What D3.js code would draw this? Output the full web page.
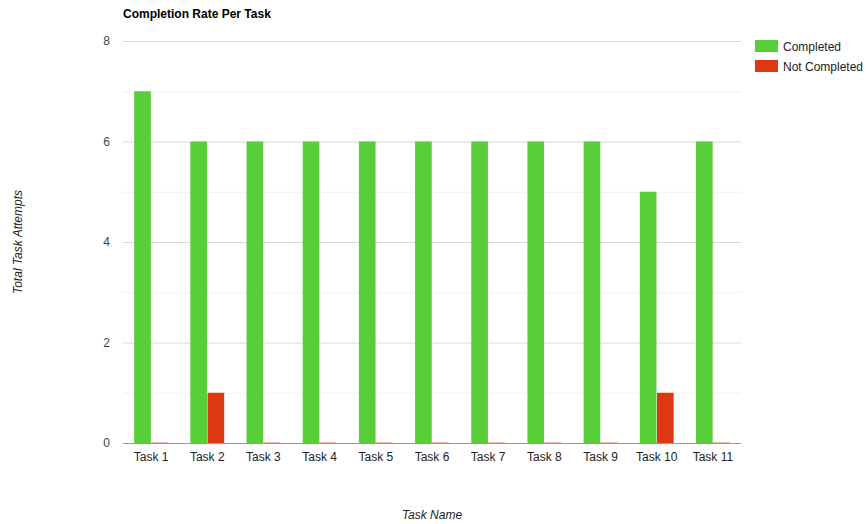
<!DOCTYPE html>
<html><head><meta charset="utf-8">
<script src="https://cdn.jsdelivr.net/npm/d3@7"></script>
<style>body{margin:0;background:#fff}svg{display:block;font-family:Arial,"Liberation Sans",sans-serif}</style>
</head><body><svg id="c" width="866" height="524"></svg>
<script>
const categories = ["Task 1","Task 2","Task 3","Task 4","Task 5","Task 6","Task 7","Task 8","Task 9","Task 10","Task 11"];
const seriesNames = ["Completed","Not Completed"];
const completed = [7,6,6,6,6,6,6,6,6,5,6];
const notCompleted = [0,1,0,0,0,0,0,0,0,1,0];
const yTicks = [0,2,4,6,8];
const colors = ["#58cf38","#dc3912"];

const svg = d3.select("#c");
const L=123, R=741, T=41, B=443;
const y = d3.scaleLinear().domain([0,8]).range([B,T]);
const x0 = d3.scaleBand().domain(categories).range([L,R]).padding(0);
const x1 = d3.scaleBand().domain(seriesNames).range([0,x0.bandwidth()]).paddingInner(0.03).paddingOuter(0.65);

// minor grid
svg.append("g").selectAll("line").data(d3.range(1,8,2)).join("line")
  .attr("x1",L).attr("x2",R).attr("y1",d=>y(d)+0.5).attr("y2",d=>y(d)+0.5)
  .attr("stroke","#f1f1f1");
// major grid
svg.append("g").selectAll("line").data(yTicks.filter(d=>d>0)).join("line")
  .attr("x1",L).attr("x2",R).attr("y1",d=>y(d)+0.5).attr("y2",d=>y(d)+0.5)
  .attr("stroke","#d9d9d9");

// y labels
const yAxis = d3.axisLeft(y).tickValues(yTicks).tickSize(0).tickPadding(13);
const yg = svg.append("g").attr("transform",`translate(${L},0)`).call(yAxis);
yg.select(".domain").remove();
yg.selectAll("text").attr("font-size",12).attr("fill","#444").attr("font-family","Arial, 'Liberation Sans', sans-serif");

const data = categories.map((c,i)=>({cat:c, vals:[completed[i],notCompleted[i]]}));
const g = svg.append("g").selectAll("g").data(data).join("g")
  .attr("transform",d=>`translate(${x0(d.cat)},0)`);
g.selectAll("rect").data(d=>d.vals.map((v,j)=>({k:seriesNames[j],v,j}))).join("rect")
  .attr("x",d=>x1(d.k)).attr("width",x1.bandwidth())
  .attr("y",d=>d.v>0?y(d.v):B-1).attr("height",d=>d.v>0?B-y(d.v):1)
  .attr("fill",d=>colors[d.j]).attr("opacity",d=>d.v>0?1:0.35);

// baseline
svg.append("line").attr("x1",L).attr("x2",R).attr("y1",B+0.5).attr("y2",B+0.5).attr("stroke","#999");

// x labels
const xAxis = d3.axisBottom(x0).tickSize(0).tickPadding(9);
const xg = svg.append("g").attr("transform",`translate(0,${B})`).call(xAxis);
xg.select(".domain").remove();
xg.selectAll("text").attr("font-size",12).attr("fill","#222").attr("font-family","Arial, 'Liberation Sans', sans-serif");

// title
svg.append("text").attr("x",L).attr("y",18).attr("font-size",12).attr("font-weight","bold").attr("fill","#000").text("Completion Rate Per Task");

// axis titles
svg.append("text").attr("transform","translate(22,242) rotate(-90)").attr("text-anchor","middle")
  .attr("font-size",12).attr("font-style","italic").attr("fill","#222").text("Total Task Attempts");
svg.append("text").attr("x",432).attr("y",519).attr("text-anchor","middle")
  .attr("font-size",12).attr("font-style","italic").attr("fill","#222").text("Task Name");

// legend
const lg = svg.append("g").selectAll("g").data(seriesNames).join("g")
  .attr("transform",(d,i)=>`translate(755,${40+i*20})`);
lg.append("rect").attr("width",23).attr("height",12).attr("fill",(d,i)=>colors[i]);
lg.append("text").attr("x",28).attr("y",10.5).attr("font-size",12).attr("fill","#222").text(d=>d);
</script></body></html>
